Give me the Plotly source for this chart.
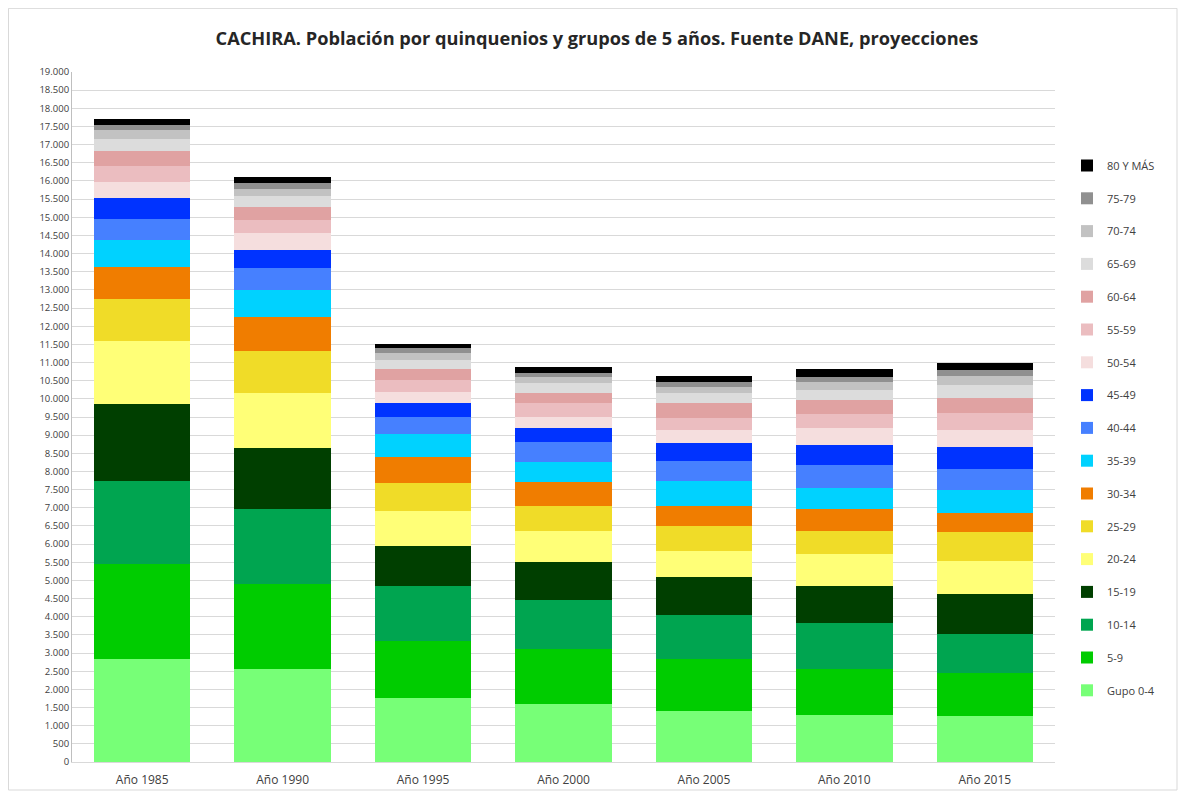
import plotly.graph_objects as go

years = ["Año 1985", "Año 1990", "Año 1995", "Año 2000", "Año 2005", "Año 2010", "Año 2015"]

groups = ["Gupo 0-4", "5-9", "10-14", "15-19", "20-24", "25-29", "30-34", "35-39",
          "40-44", "45-49", "50-54", "55-59", "60-64", "65-69", "70-74", "75-79", "80 Y MÁS"]

g00_04 = [2850, 2550, 1750, 1590, 1400, 1290, 1260]
g05_09 = [2600, 2350, 1590, 1530, 1450, 1260, 1180]
g10_14 = [2300, 2080, 1510, 1340, 1200, 1280, 1090]
g15_19 = [2100, 1670, 1100, 1040, 1040, 1020, 1100]
g20_24 = [1730, 1510, 950, 850, 710, 870, 900]
g25_29 = [1180, 1150, 790, 710, 690, 640, 790]
g30_34 = [870, 930, 710, 660, 570, 610, 550]
g35_39 = [740, 760, 630, 550, 690, 580, 630]
g40_44 = [580, 610, 470, 550, 540, 630, 580]
g45_49 = [570, 490, 380, 380, 500, 550, 600]
g50_54 = [440, 460, 300, 300, 350, 460, 460]
g55_59 = [440, 360, 330, 380, 330, 380, 470]
g60_64 = [430, 360, 300, 280, 410, 390, 410]
g65_69 = [330, 300, 250, 270, 280, 270, 360]
g70_74 = [250, 190, 190, 170, 170, 230, 240]
g75_79 = [140, 160, 140, 110, 130, 140, 170]
g80_mas = [160, 170, 130, 160, 160, 210, 190]

series = [g00_04, g05_09, g10_14, g15_19, g20_24, g25_29, g30_34, g35_39,
          g40_44, g45_49, g50_54, g55_59, g60_64, g65_69, g70_74, g75_79, g80_mas]

colors = ["#77FF77", "#00CC00", "#00A550", "#003F00", "#FFFF77", "#F0DC28", "#F07D00",
          "#00D2FF", "#4680FF", "#0033FF", "#F5DEDE", "#EBBDC0", "#E0A2A2",
          "#DCDCDC", "#C2C2C2", "#909090", "#000000"]

fig = go.Figure()
for i, (name, vals, col) in enumerate(zip(groups, series, colors)):
    fig.add_trace(go.Bar(x=years, y=vals, name=name, legendgroup=name,
                         legendrank=1000 - i,
                         marker=dict(color=col, line=dict(width=0))))

# figure is drawn inside the page's 8px body margin
OFF = 8
W, H = 1170, 783
L, T = 72 - OFF, 72 - OFF
R = W - (1055 - OFF)
B = H - (762 - OFF)
pw, ph = W - L - R, H - T - B

fig.update_layout(
    width=W, height=H,
    barmode="stack", bargap=0.314,
    separators=",.",
    paper_bgcolor="white", plot_bgcolor="white",
    margin=dict(l=L, r=R, t=T, b=B, autoexpand=False),
    font=dict(family="Open Sans", size=11, color="#404040"),
    title=dict(text="<b>CACHIRA. Población por quinquenios y grupos de 5 años. Fuente DANE, proyecciones</b>",
               x=(597 - OFF) / W, xanchor="center", y=1 - (39 - OFF) / H, yanchor="middle",
               xref="container", yref="container",
               font=dict(family="Open Sans", size=18.2, color="#262626")),
    legend=dict(traceorder="grouped", tracegroupgap=13.8, itemwidth=30,
                x=(1067 - OFF - L) / pw, xanchor="left", y=1 - (151 - OFF - T) / ph, yanchor="top",
                font=dict(size=11, color="#404040"), bgcolor="rgba(0,0,0,0)"),
    xaxis=dict(showgrid=False, showline=True, linecolor="#D9D9D9", ticks="",
               automargin=False, ticklabelstandoff=7,
               tickfont=dict(size=12, color="#404040")),
    yaxis=dict(range=[0, 19000], dtick=500, tickformat=",d", showgrid=True,
               gridcolor="#D9D9D9", gridwidth=1, showline=True, linecolor="#BFBFBF",
               automargin=False,
               zeroline=False, ticks="", tickfont=dict(size=9.5, color="#404040")),
    shapes=[dict(type="rect", xref="paper", yref="paper",
                 x0=-L / pw + 0.0005, x1=1 + (R - 1) / pw,
                 y0=-(B - 1) / ph, y1=1 + T / ph - 0.0005,
                 line=dict(color="#D9D9D9", width=1), fillcolor="rgba(0,0,0,0)", layer="below")],
)

fig.write_html("out.html")
